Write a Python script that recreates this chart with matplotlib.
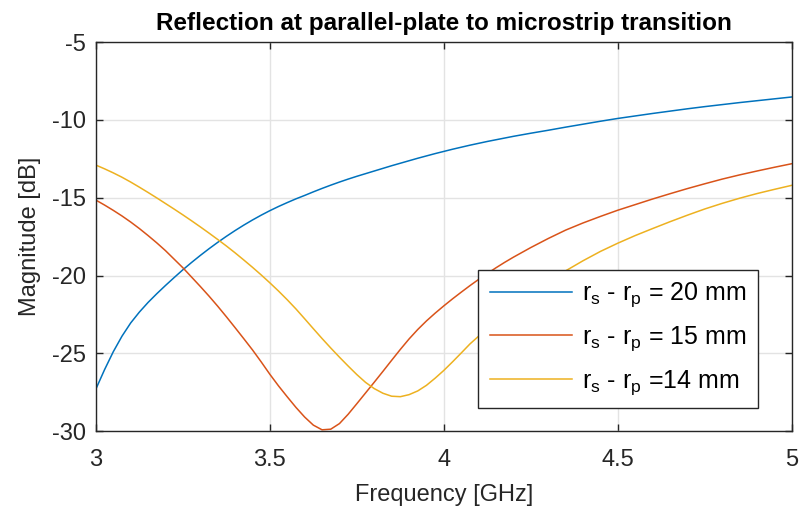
import numpy as np
import matplotlib
matplotlib.use("Agg")
import matplotlib.pyplot as plt

plt.rcParams['font.family'] = ['Liberation Sans', 'DejaVu Sans']
plt.rcParams['mathtext.default'] = 'regular'
plt.rcParams['axes.unicode_minus'] = False

# frequency [GHz]
freq = [3.000, 3.025, 3.050, 3.075, 3.100, 3.125, 3.150, 3.175, 3.200, 3.225,
        3.250, 3.275, 3.300, 3.325, 3.350, 3.375, 3.400, 3.425, 3.450, 3.475,
        3.500, 3.525, 3.550, 3.575, 3.600, 3.625, 3.650, 3.675, 3.700, 3.725,
        3.750, 3.775, 3.800, 3.825, 3.850, 3.875, 3.900, 3.925, 3.950, 3.975,
        4.000, 4.025, 4.050, 4.075, 4.100, 4.125, 4.150, 4.175, 4.200,
        4.25, 4.30, 4.35, 4.40, 4.45, 4.50, 4.55, 4.60, 4.65, 4.70, 4.75,
        4.80, 4.85, 4.90, 4.95, 5.00]

# |S11| in dB
s11_20mm = [-27.3, -26.05, -24.9, -23.9, -23.05, -22.35, -21.73, -21.17, -20.64, -20.13,
            -19.63, -19.16, -18.71, -18.28, -17.87, -17.48, -17.11, -16.76, -16.43, -16.12,
            -15.83, -15.56, -15.31, -15.07, -14.85, -14.62, -14.4, -14.19, -13.99, -13.8,
            -13.62, -13.45, -13.28, -13.11, -12.94, -12.78, -12.62, -12.46, -12.31, -12.16,
            -12.02, -11.88, -11.75, -11.62, -11.5, -11.38, -11.27, -11.16, -11.05,
            -10.85, -10.66, -10.46, -10.27, -10.08, -9.9, -9.74, -9.58, -9.43, -9.28, -9.14,
            -9.01, -8.88, -8.76, -8.64, -8.52]
s11_15mm = [-15.15, -15.47, -15.81, -16.17, -16.56, -16.98, -17.43, -17.9, -18.4, -18.95,
            -19.5, -20.1, -20.7, -21.32, -21.97, -22.65, -23.35, -24.06, -24.78, -25.55,
            -26.35, -27.1, -27.8, -28.48, -29.1, -29.62, -29.92, -29.88, -29.52, -28.92,
            -28.24, -27.55, -26.86, -26.16, -25.45, -24.75, -24.08, -23.47, -22.92, -22.42,
            -21.95, -21.5, -21.07, -20.65, -20.25, -19.87, -19.5, -19.15, -18.82,
            -18.2, -17.62, -17.08, -16.62, -16.2, -15.8, -15.44, -15.08, -14.74, -14.41, -14.1,
            -13.8, -13.53, -13.28, -13.04, -12.81]
s11_14mm = [-12.9, -13.14, -13.4, -13.68, -13.99, -14.32, -14.66, -15.01, -15.37, -15.73,
            -16.1, -16.48, -16.87, -17.27, -17.68, -18.1, -18.54, -19.0, -19.47, -19.96,
            -20.47, -21.0, -21.56, -22.15, -22.78, -23.42, -24.05, -24.66, -25.25, -25.82,
            -26.37, -26.87, -27.27, -27.57, -27.76, -27.79, -27.66, -27.42, -27.06, -26.6,
            -26.1, -25.55, -24.98, -24.4, -23.9, -23.4, -22.9, -22.44, -22.0,
            -21.17, -20.4, -19.7, -19.05, -18.45, -17.92, -17.43, -16.98, -16.54, -16.12, -15.72,
            -15.36, -15.03, -14.73, -14.46, -14.2]

labels = ['$r_s$ - $r_p$ = 20 mm', '$r_s$ - $r_p$ = 15 mm', '$r_s$ - $r_p$ =14 mm']
colors = ['#0072bd', '#d95319', '#edb120']
dark = '#262626'

fig = plt.figure(figsize=(7.99, 5.15), dpi=100)
ax = fig.add_axes([0.12, 0.163, 0.871, 0.755])

for y, c, lab in zip([s11_20mm, s11_15mm, s11_14mm], colors, labels):
    ax.plot(freq, y, color=c, lw=1.1, label=lab)

ax.set_xlim(3, 5)
ax.set_ylim(-30, -5)
ax.set_xticks([3, 3.5, 4, 4.5, 5])
ax.set_xticklabels(['3', '3.5', '4', '4.5', '5'])
ax.set_yticks([-30, -25, -20, -15, -10, -5])
ax.grid(True, color='#e3e3e3', lw=1.0)
ax.set_axisbelow(True)
ax.tick_params(direction='in', length=5, width=1, colors=dark, labelsize=17,
               top=True, right=True)
ax.tick_params(axis='x', pad=13)
ax.tick_params(axis='y', pad=7)
for s in ax.spines.values():
    s.set_color(dark)
    s.set_linewidth(1.0)

ax.set_xlabel('Frequency [GHz]', fontsize=17, color=dark, labelpad=9)
ax.set_ylabel('Magnitude [dB]', fontsize=17, color=dark, labelpad=8)
ax.set_title('Reflection at parallel-plate to microstrip transition',
             fontsize=17.5, fontweight='bold', pad=9)

leg = ax.legend(loc='lower right', bbox_to_anchor=(0.951, 0.059), borderaxespad=0,
                fontsize=18, fancybox=False, edgecolor=dark, framealpha=1,
                handlelength=3.3, labelspacing=0.6, borderpad=0.45,
                handletextpad=0.4)
leg.get_frame().set_linewidth(1.0)

fig.savefig('out.png', dpi=100)
